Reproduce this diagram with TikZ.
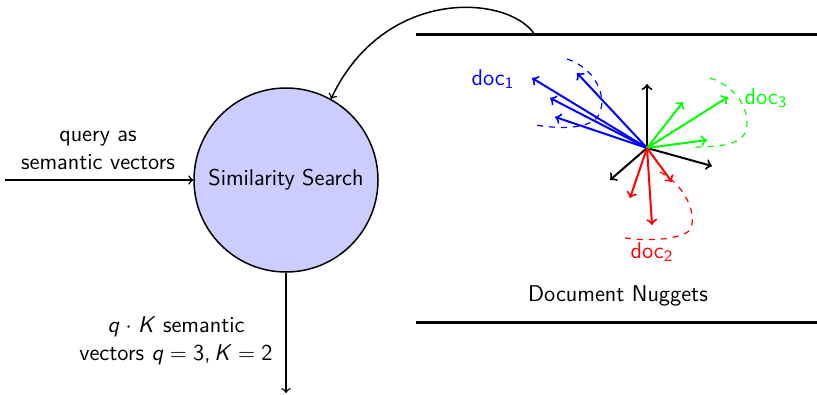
\documentclass[tikz,border=0pt]{standalone}
\usepackage{fontspec}
\renewcommand{\familydefault}{\sfdefault}
\begin{document}
\begin{tikzpicture}[x=0.5pt,y=-0.5pt,
  fnt/.style={font=\fontsize{11.4}{14}\selectfont\sffamily},
  lbl/.style={fnt, align=center, inner sep=0pt},
  conn/.style={->, line width=0.75pt},
  rule/.style={line width=1.5pt},
  vec/.style={->, line width=1pt},
  hull/.style={dashed, line width=0.6pt}]
\useasboundingbox (0,0) rectangle (817,395);
% main node
\node[circle, draw, line width=0.75pt, fill=blue!20, minimum size=92pt, fnt] (ss) at (286,180) {Similarity Search};
% input
\coordinate (in) at (5,180);
\draw[conn] (in) -- (ss.west);
\node[lbl] (inl) at (98,150) {query as\\semantic vectors};
% output
\coordinate (out) at (286,393);
\draw[conn] (ss.south) -- (out);
\node[lbl] (outl) at (176,341) {\textit{q}\;$\cdot$\;\textit{K} semantic\\vectors \textit{q}\;$=$\;3,\,\textit{K}\;$=$\;2};
% rules
\coordinate (t1) at (416,35); \coordinate (t2) at (817,35);
\coordinate (b1) at (416,322); \coordinate (b2) at (817,322);
\draw[rule] (t1) -- (t2);
\draw[rule] (b1) -- (b2);
\coordinate (ts) at (535,35);
\draw[conn] (ts) .. controls (510,-5) and (385,-15) .. (ss.61);
\node[lbl] (dn) at (618,296) {Document Nuggets};
% vectors
\coordinate (o) at (647,148);
\foreach \p in {(647,84),(712,166),(610,180)} \draw[vec] (o) -- \p;
\foreach \p in {(532,78),(577,73),(550,98),(555,117)} \draw[vec, blue] (o) -- \p;
\foreach \p in {(683,102),(728,97),(707,140)} \draw[vec, green] (o) -- \p;
\foreach \p in {(630,198),(652,225),(672,182)} \draw[vec, red] (o) -- \p;
\draw[hull, blue] (567,59) .. controls (600,70) and (610,105) .. (595,120) .. controls (580,130) and (555,128) .. (535,125);
\draw[hull, green] (710,78) .. controls (740,88) and (752,115) .. (745,133) .. controls (738,147) and (710,147) .. (690,147);
\draw[hull, red] (660,172) .. controls (685,185) and (698,215) .. (690,230) .. controls (680,240) and (645,242) .. (620,237);
\node[lbl, blue] (d1) at (493,79) {doc\textsubscript{1}};
\node[lbl, green] (d3) at (766,98) {doc\textsubscript{3}};
\node[lbl, red] (d2) at (652,252) {doc\textsubscript{2}};
\end{tikzpicture}
\end{document}
